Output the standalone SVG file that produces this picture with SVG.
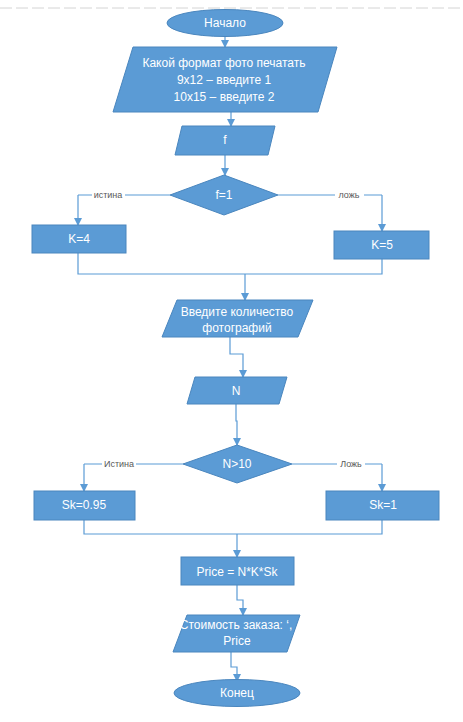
<svg xmlns="http://www.w3.org/2000/svg" width="463" height="722" viewBox="0 0 463 722">
<defs>
<marker id="arr" markerWidth="8" markerHeight="8" refX="7" refY="4" orient="auto" markerUnits="userSpaceOnUse">
<path d="M0,0 L8,4 L0,8 z" fill="#5B9BD5"/>
</marker>
</defs>
<style>
.shape{fill:#5B9BD5;stroke:#4A86BE;stroke-width:1}
.t{font-family:"Liberation Sans",Arial,sans-serif;font-size:12px;fill:#ffffff;text-anchor:middle;dominant-baseline:central}
.lbl{font-family:"Liberation Sans",Arial,sans-serif;font-size:9px;fill:#595959;text-anchor:middle;dominant-baseline:central}
.c{fill:none;stroke:#5B9BD5;stroke-width:1.2}
.a{marker-end:url(#arr)}
</style>
<rect width="463" height="722" fill="#ffffff"/>
<line x1="0" y1="8" x2="463" y2="8" stroke="#d4d4d4" stroke-width="1" stroke-dasharray="12,4"/>

<g id="connectors">
<path class="c a" d="M225,37 V47"/>
<path class="c a" d="M231,112 V126"/>
<path class="c a" d="M225,155 V175"/>
<path class="c" d="M170,195 H78"/>
<path class="c a" d="M78,195 V225"/>
<path class="c" d="M278,195 H382"/>
<path class="c a" d="M382,195 V231"/>
<path class="c" d="M78,253 V274 H382 V259"/>
<path class="c a" d="M245,274 V300"/>
<path class="c a" d="M230,337 V354 H243 V377"/>
<path class="c a" d="M236,404 V421 H237 V445"/>
<path class="c" d="M183,464 H84"/>
<path class="c a" d="M84,464 V491"/>
<path class="c" d="M292,464 H382"/>
<path class="c a" d="M382,464 V491"/>
<path class="c" d="M84,520 V534 H382 V520"/>
<path class="c a" d="M237,534 V557"/>
<path class="c a" d="M237,585 V600 H243 V615"/>
<path class="c a" d="M231,652 V667 H237 V681"/>
<rect x="92" y="189" width="33" height="12" fill="#ffffff"/>
<text class="lbl" x="108" y="195">истина</text>
<rect x="335" y="189" width="29" height="12" fill="#ffffff"/>
<text class="lbl" x="349" y="195">ложь</text>
<rect x="102" y="458" width="34" height="12" fill="#ffffff"/>
<text class="lbl" x="119" y="464">Истина</text>
<rect x="337" y="458" width="28" height="12" fill="#ffffff"/>
<text class="lbl" x="351" y="464">Ложь</text>
</g>

<g id="start">
<ellipse class="shape" cx="225" cy="23" rx="58" ry="13.5"/>
<text class="t" x="225" y="23">Начало</text>
</g>
<g id="input-format">
<polygon class="shape" points="133,47 337,47 318,112 113,112"/>
<text class="t" x="224" y="63">Какой формат фото печатать</text>
<text class="t" x="224" y="80">9x12 – введите 1</text>
<text class="t" x="224" y="97">10x15 – введите 2</text>
</g>
<g id="input-f">
<polygon class="shape" points="182,126 275,126 268,155 175,155"/>
<text class="t" x="225" y="140">f</text>
</g>
<g id="decision-f">
<polygon class="shape" points="224,175 278,195 224,215 170,195"/>
<text class="t" x="224" y="195">f=1</text>
</g>
<g id="k4">
<rect class="shape" x="32" y="225" width="94" height="28"/>
<text class="t" x="79" y="239">K=4</text>
</g>
<g id="k5">
<rect class="shape" x="334" y="231" width="95" height="28"/>
<text class="t" x="382" y="245">K=5</text>
</g>
<g id="input-count">
<polygon class="shape" points="177,300 313,300 298,337 162,337"/>
<text class="t" x="237" y="312">Введите количество</text>
<text class="t" x="237" y="328">фотографий</text>
</g>
<g id="input-n">
<polygon class="shape" points="195,377 287,377 279,404 187,404"/>
<text class="t" x="236" y="391">N</text>
</g>
<g id="decision-n">
<polygon class="shape" points="237,445 292,464 237,483 183,464"/>
<text class="t" x="237" y="464">N&gt;10</text>
</g>
<g id="sk095">
<rect class="shape" x="34" y="491" width="101" height="29"/>
<text class="t" x="84" y="505">Sk=0.95</text>
</g>
<g id="sk1">
<rect class="shape" x="326" y="491" width="113" height="29"/>
<text class="t" x="383" y="505">Sk=1</text>
</g>
<g id="price">
<rect class="shape" x="181" y="557" width="113" height="28"/>
<text class="t" x="237" y="572">Price = N*K*Sk</text>
</g>
<g id="output">
<polygon class="shape" points="187,615 300,615 287,652 173,652"/>
<text class="t" x="236" y="625">Стоимость заказа: ‘,</text>
<text class="t" x="237" y="641">Price</text>
</g>
<g id="end">
<ellipse class="shape" cx="237" cy="693" rx="63" ry="13.5"/>
<text class="t" x="237" y="693">Конец</text>
</g>
</svg>
